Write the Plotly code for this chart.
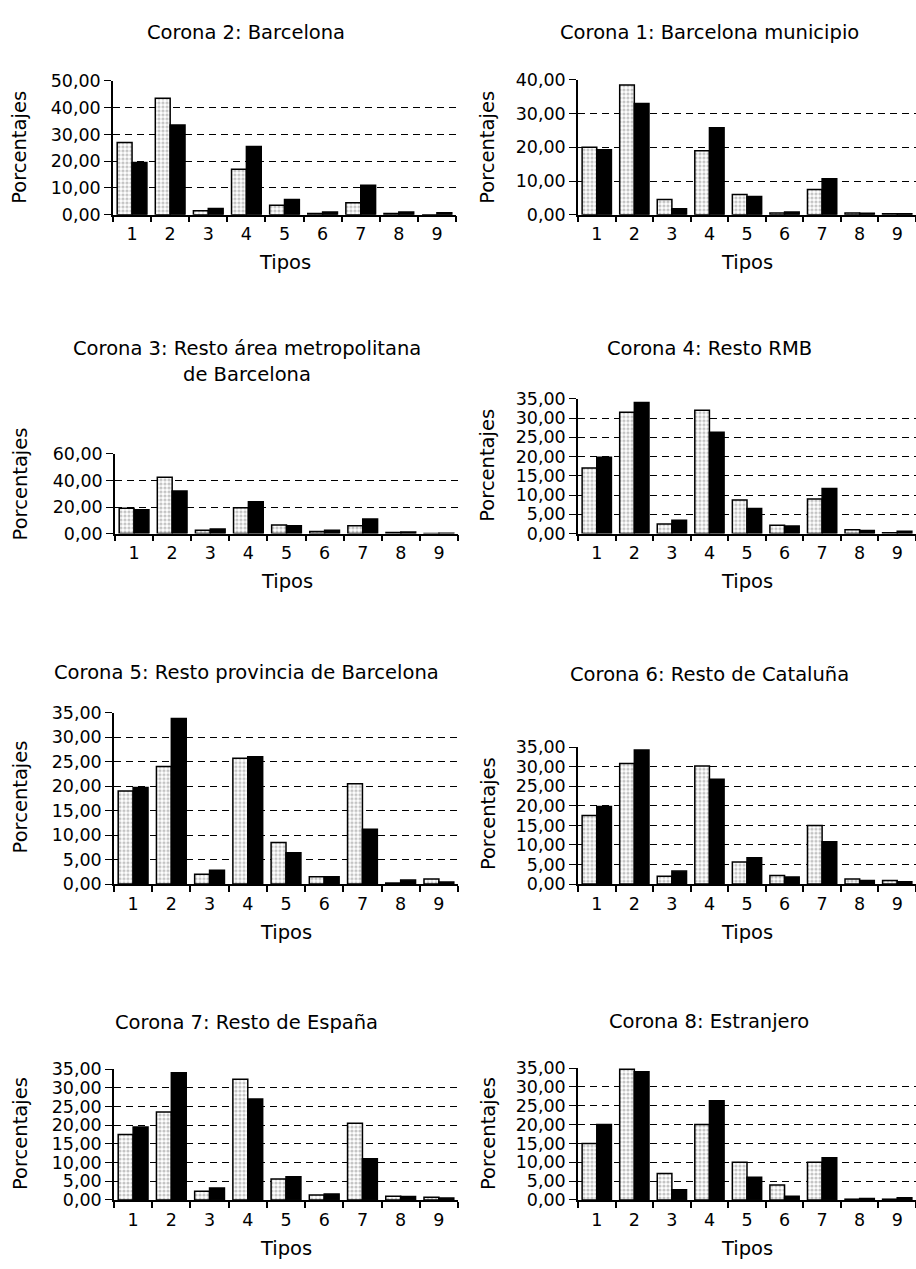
import plotly.graph_objects as go

W, H = 916, 1269

tipos = ["1", "2", "3", "4", "5", "6", "7", "8", "9"]

# Values (light = stippled bar, dark = black bar)
c2_light = [27.0, 43.5, 1.5, 17.0, 3.5, 0.5, 4.5, 0.5, 0.0]
c2_dark = [19.5, 33.5, 2.3, 25.5, 5.7, 1.0, 11.0, 1.0, 0.7]

c1_light = [20.0, 38.5, 4.5, 19.0, 6.0, 0.5, 7.5, 0.5, 0.3]
c1_dark = [19.3, 33.0, 1.8, 25.8, 5.4, 0.8, 10.7, 0.4, 0.3]

c3_light = [19.0, 42.5, 2.5, 19.5, 6.5, 1.5, 6.0, 0.8, 0.1]
c3_dark = [18.0, 32.0, 3.5, 24.0, 6.0, 2.5, 11.0, 1.2, 0.2]

c4_light = [17.0, 31.5, 2.5, 32.0, 8.7, 2.2, 9.0, 1.0, 0.2]
c4_dark = [19.8, 34.0, 3.5, 26.3, 6.5, 2.0, 11.7, 0.8, 0.6]

c5_light = [19.0, 24.0, 2.0, 25.7, 8.5, 1.5, 20.5, 0.2, 1.0]
c5_dark = [19.7, 33.8, 2.8, 26.0, 6.4, 1.5, 11.2, 0.8, 0.4]

c6_light = [17.5, 30.8, 2.0, 30.2, 5.6, 2.2, 15.0, 1.3, 0.9]
c6_dark = [19.8, 34.3, 3.3, 26.8, 6.7, 1.8, 10.8, 0.9, 0.6]

c7_light = [17.5, 23.5, 2.3, 32.3, 5.6, 1.3, 20.5, 1.0, 0.7]
c7_dark = [19.5, 34.0, 3.2, 27.0, 6.2, 1.6, 11.0, 0.9, 0.5]

c8_light = [15.0, 34.7, 7.0, 20.0, 10.0, 4.0, 10.0, 0.2, 0.2]
c8_dark = [20.0, 34.0, 2.7, 26.3, 6.0, 1.0, 11.2, 0.4, 0.6]

titles = [
    ["Corona 2: Barcelona"],
    ["Corona 1: Barcelona municipio"],
    ["Corona 3: Resto área metropolitana", "de Barcelona"],
    ["Corona 4: Resto RMB"],
    ["Corona 5: Resto provincia de Barcelona"],
    ["Corona 6: Resto de Cataluña"],
    ["Corona 7: Resto de España"],
    ["Corona 8: Estranjero"],
]
light_series = [c2_light, c1_light, c3_light, c4_light, c5_light, c6_light, c7_light, c8_light]
dark_series = [c2_dark, c1_dark, c3_dark, c4_dark, c5_dark, c6_dark, c7_dark, c8_dark]
y_max = [50, 40, 60, 35, 35, 35, 35, 35]
y_step = [10, 10, 20, 5, 5, 5, 5, 5]

y_title = "Porcentajes"
x_title = "Tipos"

# layout in pixels: (x0, x1, ytop, ybottom, title line centres, title centre x, ylabel centre y)
boxes = [
    (113, 456, 72, 208, [23], 246, 140),
    (578, 916, 71, 208, [23], 709, 140),
    (115, 458, 451, 532, [344, 370], 247, 482),
    (578, 916, 395, 532, [344], 709, 463),
    (114, 458, 714, 888, [673], 246, 800),
    (578, 916, 749, 888, [675], 709, 817),
    (114, 458, 1076, 1209, [1029], 246, 1142),
    (578, 916, 1075, 1209, [1028], 709, 1142),
]

FONT = "DejaVu Sans"

def px(x):
    return x / W

def py(y):
    return 1 - y / H

fig = go.Figure()
annotations = []
layout_axes = {}

for i in range(8):
    n = i + 1
    xa = "x" if n == 1 else f"x{n}"
    ya = "y" if n == 1 else f"y{n}"
    fig.add_trace(go.Bar(
        x=tipos, y=light_series[i], xaxis=xa, yaxis=ya,
        marker=dict(color="white", line=dict(color="black", width=1.5),
                    pattern=dict(shape=".", fgcolor="#8a8a8a", bgcolor="white",
                                 size=4, solidity=0.5)),
        showlegend=False, hoverinfo="skip",
    ))
    fig.add_trace(go.Bar(
        x=tipos, y=dark_series[i], xaxis=xa, yaxis=ya,
        marker=dict(color="black", line=dict(color="black", width=1.5)),
        showlegend=False, hoverinfo="skip",
    ))
    x0, x1, yt, yb, tys, tx, yly = boxes[i]
    xkey = "xaxis" if n == 1 else f"xaxis{n}"
    ykey = "yaxis" if n == 1 else f"yaxis{n}"
    layout_axes[xkey] = dict(
        domain=[px(x0), px(x1)], anchor=ya, type="category",
        categoryorder="array", categoryarray=tipos,
        showline=True, linecolor="black", linewidth=1.5,
        ticks="outside", tickson="boundaries", ticklen=6, tickwidth=1.5,
        tickcolor="black", showgrid=False, zeroline=False,
        tickfont=dict(family=FONT, size=17.5, color="black"),
        ticklabelstandoff=3,
    )
    layout_axes[ykey] = dict(
        domain=[py(yb), py(yt)], anchor=xa, range=[0, y_max[i]],
        tick0=0, dtick=y_step[i], tickformat=".2f",
        showline=True, linecolor="black", linewidth=1.5,
        ticks="outside", ticklen=7, tickwidth=1.2, tickcolor="black",
        showgrid=True, gridcolor="black", gridwidth=1.2, griddash="7px,5px",
        zeroline=False,
        tickfont=dict(family=FONT, size=17.5, color="black"),
    )
    for k, line in enumerate(titles[i]):
        annotations.append(dict(
            text=line, x=px(tx), y=py(tys[k]), xref="paper", yref="paper",
            xanchor="center", yanchor="middle", showarrow=False,
            font=dict(family=FONT, size=19.5, color="black"),
        ))
    annotations.append(dict(
        text=x_title, x=px((x0 + x1) / 2), y=py(yb + 49), xref="paper", yref="paper",
        xanchor="center", yanchor="middle", showarrow=False,
        font=dict(family=FONT, size=19.5, color="black"),
    ))
    annotations.append(dict(
        text=y_title, x=px(20 if x0 < 300 else 488), y=py(yly), xref="paper", yref="paper",
        xanchor="center", yanchor="middle", showarrow=False, textangle=-90,
        font=dict(family=FONT, size=19.5, color="black"),
    ))

fig.update_layout(
    width=W, height=H, margin=dict(l=0, r=0, t=0, b=0),
    paper_bgcolor="white", plot_bgcolor="white",
    barmode="group", bargap=0.22, bargroupgap=0.0,
    separators=",.", annotations=annotations,
    font=dict(family=FONT, color="black"),
    **layout_axes,
)

fig.write_html(
    "out.html",
    config={"displayModeBar": False},
    post_script="document.body.style.margin='0';document.body.style.padding='0';",
)
